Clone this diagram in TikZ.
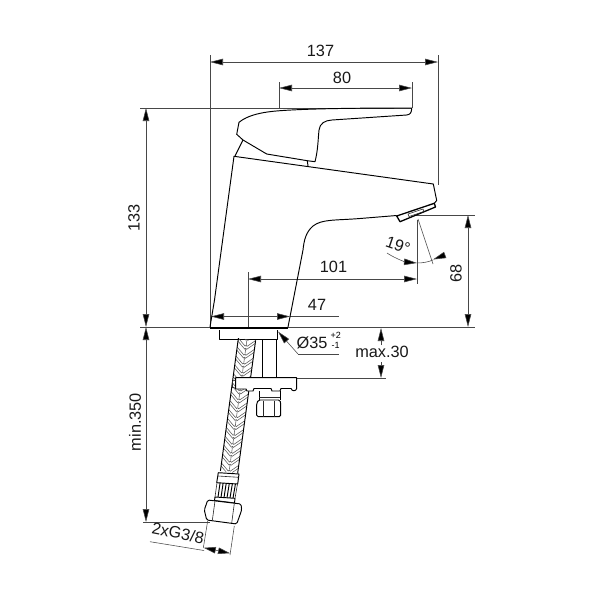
\documentclass[tikz,border=0pt]{standalone}
\usepackage{fontspec}
\setmainfont{Liberation Sans}
\usetikzlibrary{arrows.meta,calc}
\tikzset{
 dimline/.style={line width=.55pt,draw=black!72},
 dimarrow/.style={dimline,{Triangle[length=13pt,width=6.5pt,fill=black]}-{Triangle[length=13pt,width=6.5pt,fill=black]}},
 onetip/.style={dimline,-{Triangle[length=13pt,width=6.5pt,fill=black]}},
 outline/.style={line width=.95pt,draw=black,line join=round},
 heavy/.style={line width=1.3pt,draw=black,line join=round},
 thin part/.style={line width=.6pt,draw=black!85},
 braid/.style={line width=.55pt,draw=black!65},
 label/.style={font=\fontsize{16.3}{16.3}\selectfont,inner sep=0pt,text=black!90}
}
\begin{document}
\begin{tikzpicture}[x=1pt,y=-1pt]
\useasboundingbox (0,0) rectangle (600,600);
\fill[white] (0,0) rectangle (600,600);
% extension lines
\draw[dimline] (210,55)--(210,327);
\draw[dimline] (438,55)--(438,185);
\draw[dimline] (279,82)--(279,108);
\draw[dimline] (412,82)--(412,108);
\draw[dimline] (140,108)--(412,108);
\draw[dimline] (140,327)--(210,327);
\draw[dimline] (288,327)--(475,327);
\draw[dimline] (143,522)--(210,522);
\draw[dimline] (416,215)--(475,215);
\draw[dimline] (417,220)--(417,284);
\draw[dimline] (248,272)--(248,327);
% dimensions
\draw[dimarrow] (210,62)--(438,62);
\draw[dimarrow] (279,88)--(412,88);
\draw[dimarrow] (146,108)--(146,327);
\draw[dimarrow] (146,327)--(146,522);
\draw[dimarrow] (468,215)--(468,327);
\draw[dimarrow] (248,279)--(417,279);
\draw[dimarrow] (211,316.5)--(290,316.5);
\draw[dimline] (290,316.5)--(339,316.5);
\draw[dimline] (298,354)--(339,354);
\draw[onetip] (298,354)--(278,331.5);
\draw[onetip] (381,345)--(381,328);
\draw[onetip] (381,362)--(381,378);
\draw[dimline] (296,378)--(386,378);
% 19 degrees
\draw[dimline] (418,219)--(433,264);
\draw[onetip] (387,253) .. controls (396,259) and (406,262) .. (417,263);
\draw[dimline] (417,263) .. controls (423,263) and (428,262) .. (433,260);
\draw[onetip] (445,255)--(433,259.5);
% handle
\draw[outline] (411.7,108) .. controls (360,108) and (310,108.5) .. (280,110.7)
 .. controls (262,112) and (248,115) .. (239,122.3) -- (236.7,134.3) -- (243,140) -- (266.7,154) -- (307.3,160.7) -- (315,161.7)
 .. controls (318,150) and (318,140) .. (319,130) .. controls (320,123) and (325,120.5) .. (332,120)
 -- (406.7,115) .. controls (410,114.5) and (411.7,113) .. (411.7,108) -- cycle;
\draw[outline] (243,140)--(235,156);
\draw[outline] (307.3,160.7)--(308,166);
% body
\draw[outline] (214.5,300)--(234,156.3)--(433.3,184)--(436.7,200.5)--(434.3,203.3);
\draw[outline] (210,327)--(214.5,300);
\draw[outline] (396.7,215.5) -- (360,218.5) .. controls (335,220.5) and (322,219) .. (313,226)
 .. controls (306,232) and (304,240) .. (303,250) -- (288,327);
\draw[heavy] (210,328.2)--(288,328.2);
\draw[outline] (210,327)--(288,327);
% nozzle
\draw[heavy] (396.7,216)--(434.3,203.3)--(435.5,207)--(400,221.7)--cycle;
\draw[thin part] (408,214)--(423,209)--(424,211.5)--(409,216.5)--cycle;
% flange, shank
\draw[outline] (219.3,330)--(219.3,339.3)--(277.3,339.3)--(277.3,330);
\draw[outline] (262.3,339.3)--(262.3,378);
\draw[outline] (276.7,339.3)--(276.7,378);
% hose
\begin{scope}[shift={(247,339.3)},rotate=-7.7]
 \begin{scope}
 \clip (-8.7,0) rectangle (8.7,134);
 \foreach \k in {-2,...,16}{
  \foreach \d in {0,3}{
   \draw[braid] (-8.7,{\k*9+\d})--(-1,{\k*9+\d+7})--(0,{\k*9+\d+6})--(1,{\k*9+\d+7})--(8.7,{\k*9+\d});
  }
  \draw[braid] (0,{\k*9+1})--(0,{\k*9+5.5});
 }
 \end{scope}
 \draw[outline] (-8.7,0)--(-8.7,134);
 \draw[outline] (8.7,0)--(8.7,134);
\end{scope}
% collar and crimp
\draw[outline,fill=white] (218.3,472.7)--(239,474)--(237.7,484)--(216.7,482.7)--cycle;
\draw[thin part] (218,476)--(238.6,477.3);
\draw[thin part] (217,482.7)--(215,497);
\draw[thin part] (237.5,484)--(235,498.3);
\foreach \a in {.15,.3,.45,.6,.75,.9}{
 \draw[outline] ($(217,482.7)!\a!(237.5,484)$)--($(215,497)!\a!(235,498.3)$);
}
\draw[outline,fill=white] (215,497)--(235,498.3)--(234.5,503)--(214.5,500.5)--cycle;
% nut
\draw[outline,fill=white,rounded corners=1.5pt] (207.7,500)--(241,504)--(241.7,510)--(236.7,524)--(206.7,520)--(204.3,510)--cycle;
\draw[thin part] (215,501)--(212.3,520.5);
\draw[thin part] (234.3,503.5)--(231.7,523);
% plate
\draw[outline,fill=white] (235.7,377.7)--(296.7,377.7)--(296.7,388.5) .. controls (296,391.5) and (292,391.5) .. (291,388.5)
 -- (281,388.5)--(280,391)--(272,391)--(271,388.5)--(254,388.5)--(253,391)--(247,391)--(246,389)--(235.7,389)--cycle;
\draw[thin part] (235.7,380)--(232.5,381)--(232.5,387.5)--(235.7,388);
% valve nut
\draw[outline] (259.3,391)--(259.3,400);
\draw[outline] (280,391)--(280,400);
\draw[thin part] (259.3,397)--(280,397);
\draw[outline,fill=white,rounded corners=1.5pt] (258.5,400)--(280,400)--(280.7,403)--(280.7,416.7)--(256.7,416.7)--(256.7,403)--cycle;
\draw[thin part] (263.3,400.5)--(263.3,416.5);
\draw[thin part] (274.3,400.5)--(274.3,416.5);
% 2xG3/8
\draw[dimline] (207.7,520.7)--(203.3,548);
\draw[dimline] (234.3,526)--(230,555);
\draw[dimline] (150,541.7)--(204,550.5);
\draw[dimline,-{Triangle[length=12pt,width=6.5pt,fill=black]}] (217,550.5)--(203.8,547.8);
\draw[dimline,-{Triangle[length=12pt,width=6.5pt,fill=black]}] (217,550.5)--(230,553.2);
% labels
\node[label] (t137) at (320.5,50.5) {137};
\node[label] (t80) at (342,78) {80};
\node[label,rotate=90] (t133) at (134,218) {133};
\node[label,rotate=90] (t350) at (135,422) {min.350};
\node[label,rotate=90] (t68) at (456,273) {68};
\node[label] (t101) at (333.5,267) {101};
\node[label] (t47) at (317,305) {47};
\node[label] (tdia) at (312,342.5) {Ø35};
\node[font=\fontsize{9}{9}\selectfont,inner sep=0pt] (tplus) at (335.7,335) {+2};
\node[font=\fontsize{9}{9}\selectfont,inner sep=0pt] (tminus) at (335.7,345) {-1};
\node[label] (tmax) at (382,352) {max.30};
\node[label,rotate=-19] (t19) at (398,245) {19°};
\node[label,rotate=-11] (tg) at (178,533) {2xG3/8};
\end{tikzpicture}
\end{document}
